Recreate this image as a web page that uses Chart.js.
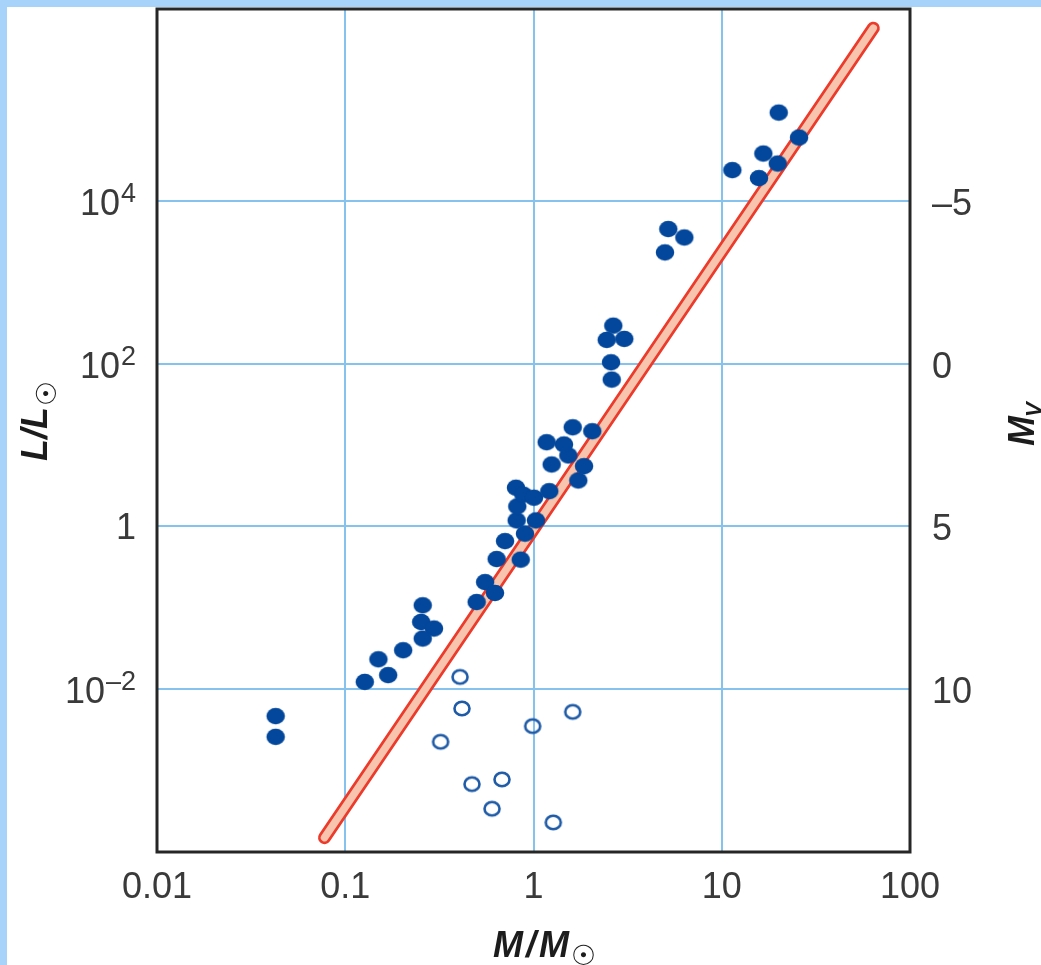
<!DOCTYPE html>
<html>
<head>
<meta charset="utf-8">
<title>Mass–luminosity relation</title>
<script src="https://cdn.jsdelivr.net/npm/chart.js@4/dist/chart.umd.min.js"></script>
<style>
  html, body { margin: 0; padding: 0; background: #ffffff; }
  #wrap { width: 1041px; height: 965px; }
  canvas { display: block; }
</style>
</head>
<body>
<div id="wrap"><canvas id="mlr" width="1041" height="965"></canvas></div>
<script>
// Main-sequence stars: mass (solar masses) and luminosity (solar luminosities)
const mainSeqMass = [
  0.0427, 0.0427, 0.127, 0.150, 0.169, 0.203, 0.258, 0.253, 0.296, 0.258,
  0.499, 0.553, 0.624, 0.637, 0.855, 0.706, 0.901, 0.814, 1.031, 0.820,
  0.807, 0.883, 1.006, 1.213, 1.249, 1.730, 1.855, 1.531, 1.452, 1.175,
  1.615, 2.053, 2.603, 2.581, 2.448, 3.036, 2.654, 4.994, 5.201, 6.326,
  11.38, 15.77, 16.63, 19.83, 20.07, 25.73
];
const mainSeqLum = [
  4.67e-3, 2.60e-3, 0.0123, 0.0233, 0.0149, 0.0301, 0.1073, 0.0670, 0.0556, 0.0419,
  0.1178, 0.207, 0.152, 0.397, 0.390, 0.660, 0.814, 1.185, 1.185, 1.760,
  2.985, 2.449, 2.249, 2.711, 5.764, 3.667, 5.495, 7.43, 10.14, 10.82,
  16.5, 14.77, 63.6, 103.8, 195.4, 201, 292.6, 2320, 4496, 3545,
  23810, 18990, 38050, 28690, 121200, 59800
];

// White dwarfs
const dwarfMass = [0.407, 0.417, 0.321, 0.990, 1.615, 0.471, 0.680, 0.602, 1.274];
const dwarfLum  = [0.01416, 5.80e-3, 2.26e-3, 3.52e-3, 5.27e-3, 6.83e-4, 7.80e-4, 3.40e-4, 2.31e-4];

// Ends of the mass–luminosity band
const fitMass = [0.0776, 63.8];
const fitLum  = [1.5e-4, 1.32e6];

// Axis ticks
const xTicks = [0.01, 0.1, 1, 10, 100];
const xTickLabels = ['0.01', '0.1', '1', '10', '100'];
const yTicks = [1e-2, 1, 1e2, 1e4];
const yTickExponents = [-2, 0, 2, 4];
const mvTicks = [-5, 0, 5, 10];

// Axis ranges
const xMin = 0.01, xMax = 100;
const yMin = 1e-4, yMax = 2.27e6;
// Absolute magnitude axis follows M_V = 5 - 2.5 log(L/Lsun)
const mvAtMin = 5 - 2.5 * Math.log10(yMin);
const mvAtMax = 5 - 2.5 * Math.log10(yMax);

const FONT = '"Liberation Sans", Arial, Helvetica, sans-serif';
const TICK_COLOR = '#3a3a3a';
const GRID_COLOR = '#86c2ee';

function ellipseSprite(w, h, fill, stroke, lw) {
  const c = document.createElement('canvas');
  c.width = Math.ceil(w + 5);
  c.height = Math.ceil(h + 5);
  const g = c.getContext('2d');
  g.beginPath();
  g.ellipse(c.width / 2, c.height / 2, w / 2, h / 2, 0, 0, Math.PI * 2);
  if (fill) { g.fillStyle = fill; g.fill(); }
  if (stroke) { g.lineWidth = lw; g.strokeStyle = stroke; g.stroke(); }
  return c;
}
const dotSprite = ellipseSprite(18.5, 16.5, '#02479b');
const ringSprite = ellipseSprite(15, 13.6, null, '#1e5aa6', 2.6);

const toPoints = (xs, ys) => xs.map((x, i) => ({ x: x, y: ys[i] }));

// Light blue strips along the top and left edges, and the plot frame
const framePlugin = {
  id: 'frameBg',
  beforeDraw(chart) {
    const ctx = chart.ctx;
    ctx.save();
    ctx.fillStyle = '#ffffff';
    ctx.fillRect(0, 0, chart.width, chart.height);
    ctx.fillStyle = '#a7d3fb';
    ctx.fillRect(0, 0, chart.width, 7);
    ctx.fillRect(0, 0, 7, chart.height);
    ctx.restore();
  },
  afterDraw(chart) {
    const a = chart.chartArea, ctx = chart.ctx;
    ctx.save();
    ctx.strokeStyle = '#262626';
    ctx.lineWidth = 3;
    ctx.strokeRect(a.left, a.top, a.right - a.left, a.bottom - a.top);
    ctx.restore();
  }
};

// Powers of ten on the luminosity axis, drawn with raised exponents
const powerLabels = {
  id: 'powerLabels',
  afterDraw(chart) {
    const ctx = chart.ctx, s = chart.scales.y;
    const base = '36px ' + FONT, sup = '27px ' + FONT;
    const xr = s.right - 21;
    ctx.save();
    ctx.fillStyle = TICK_COLOR;
    ctx.textAlign = 'right';
    ctx.textBaseline = 'alphabetic';
    yTicks.forEach((v, i) => {
      const py = s.getPixelForValue(v);
      const e = yTickExponents[i];
      if (e === 0) {
        ctx.font = base;
        ctx.fillText('1', xr, py + 13);
        return;
      }
      const expText = (e < 0 ? '\u2013' : '') + Math.abs(e);
      ctx.font = sup;
      const sw = ctx.measureText(expText).width;
      ctx.fillText(expText, xr, py + 1);
      ctx.font = base;
      ctx.fillText('10', xr - sw - 1, py + 14);
    });
    ctx.restore();
  }
};

// Axis titles with solar-symbol and V subscripts
const axisTitles = {
  id: 'axisTitles',
  afterDraw(chart) {
    const ctx = chart.ctx;
    const bold = 'italic bold 36px ' + FONT;
    const sun = '28px "DejaVu Sans", sans-serif';
    ctx.save();
    ctx.fillStyle = '#1c1c1c';
    ctx.textBaseline = 'alphabetic';
    ctx.textAlign = 'left';

    // L/L☉, reading upward along the left side
    ctx.save();
    ctx.translate(47, 461);
    ctx.rotate(-Math.PI / 2);
    ctx.font = bold;
    ctx.fillText('L/L', 0, 0);
    let w = ctx.measureText('L/L').width;
    ctx.font = sun;
    ctx.fillText('\u2609', w + 1, 9);
    ctx.restore();

    // M/M☉ under the mass axis
    ctx.save();
    ctx.font = bold;
    if ('letterSpacing' in ctx) ctx.letterSpacing = '3px';
    ctx.fillText('M/M', 493, 957);
    w = ctx.measureText('M/M').width;
    if ('letterSpacing' in ctx) ctx.letterSpacing = '0px';
    ctx.font = sun;
    ctx.fillText('\u2609', 493 + w - 1, 965);
    ctx.restore();

    // M_V on the right side
    ctx.save();
    ctx.translate(1034, 446);
    ctx.rotate(-Math.PI / 2);
    ctx.font = bold;
    ctx.fillText('M', 0, 0);
    w = ctx.measureText('M').width;
    ctx.font = 'italic bold 22px ' + FONT;
    ctx.fillText('V', w - 1, 7);
    ctx.restore();

    ctx.restore();
  }
};

new Chart(document.getElementById('mlr'), {
  type: 'scatter',
  data: {
    datasets: [
      {
        label: 'Main sequence',
        data: toPoints(mainSeqMass, mainSeqLum),
        pointStyle: dotSprite,
        pointRadius: 9,
        backgroundColor: '#02479b',
        borderWidth: 0,
        order: 0
      },
      {
        label: 'White dwarfs',
        data: toPoints(dwarfMass, dwarfLum),
        pointStyle: ringSprite,
        pointRadius: 8,
        backgroundColor: 'rgba(0,0,0,0)',
        borderColor: '#1e5aa6',
        order: 1
      },
      {
        label: 'Band fill',
        data: toPoints(fitMass, fitLum),
        showLine: true,
        borderColor: '#f8c4ad',
        borderWidth: 7.5,
        borderCapStyle: 'round',
        pointRadius: 0,
        order: 2
      },
      {
        label: 'Band edge',
        data: toPoints(fitMass, fitLum),
        showLine: true,
        borderColor: '#ec3a2b',
        borderWidth: 13,
        borderCapStyle: 'round',
        pointRadius: 0,
        order: 3
      }
    ]
  },
  options: {
    responsive: false,
    animation: false,
    devicePixelRatio: 1,
    layout: { padding: { top: 8, left: 0, right: 0, bottom: 0 } },
    plugins: {
      legend: { display: false },
      tooltip: { enabled: false }
    },
    scales: {
      x: {
        type: 'logarithmic',
        position: 'bottom',
        min: xMin,
        max: xMax,
        afterBuildTicks: s => { s.ticks = xTicks.map(v => ({ value: v })); },
        afterFit: s => { s.height = 113; s.paddingLeft = 0; s.paddingRight = 0; },
        ticks: {
          callback: (v, i) => xTickLabels[i],
          font: { family: FONT, size: 36 },
          color: TICK_COLOR,
          padding: 14,
          maxRotation: 0,
          autoSkip: false
        },
        grid: { color: GRID_COLOR, lineWidth: 2, drawTicks: false },
        border: { display: false }
      },
      y: {
        type: 'logarithmic',
        position: 'left',
        min: yMin,
        max: yMax,
        afterBuildTicks: s => { s.ticks = yTicks.map(v => ({ value: v })); },
        afterFit: s => { s.width = 157; s.paddingTop = 0; s.paddingBottom = 0; },
        ticks: { callback: () => '', autoSkip: false },
        grid: { color: GRID_COLOR, lineWidth: 2, drawTicks: false },
        border: { display: false }
      },
      mv: {
        type: 'linear',
        position: 'right',
        reverse: true,
        min: mvAtMax,
        max: mvAtMin,
        afterBuildTicks: s => { s.ticks = mvTicks.map(v => ({ value: v })); },
        afterFit: s => { s.width = 131; s.paddingTop = 0; s.paddingBottom = 0; },
        ticks: {
          callback: v => (v < 0 ? '\u2013' + Math.abs(v) : String(v)),
          font: { family: FONT, size: 36 },
          color: TICK_COLOR,
          padding: 22,
          labelOffset: 4,
          autoSkip: false
        },
        grid: { display: false, drawTicks: false },
        border: { display: false }
      }
    }
  },
  plugins: [framePlugin, powerLabels, axisTitles]
});
</script>
</body>
</html>
